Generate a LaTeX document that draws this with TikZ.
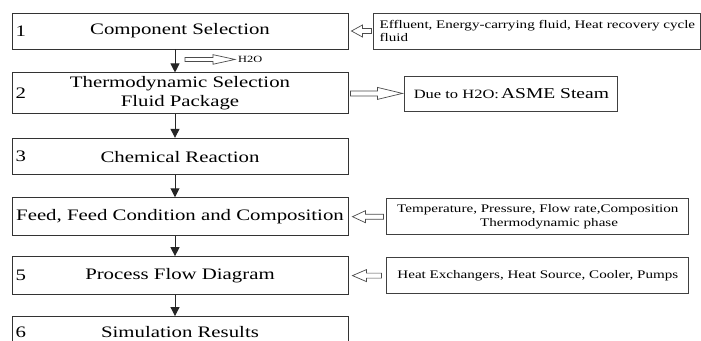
\documentclass[tikz,border=0pt]{standalone}
\usepackage{fontspec}
\setmainfont{Liberation Serif}[FakeStretch=1.3]
\usetikzlibrary{arrows.meta,positioning,calc}

% hollow block arrow: [width factor]{tail}{tip}{head length}
\newcommand\hollowarrow[4][1]{%
  \coordinate (hb) at ($(#3)!#4!(#2)$);
  \draw[hollow] ([yshift=#1*2.5pt]#2) -- ([yshift=#1*2.5pt]hb) -- ([yshift=#1*6pt]hb)
    -- (#3) -- ([yshift=-#1*6pt]hb) -- ([yshift=-#1*2.5pt]hb) -- ([yshift=-#1*2.5pt]#2) -- cycle;}

\begin{document}
\begin{tikzpicture}[x=1pt, y=-1pt,
  node distance=22pt and 25pt,
  stage/.style={draw=black!80, line width=0.9pt, minimum width=336pt, minimum height=#1,
                inner sep=2pt, align=center, font=\fontsize{16}{18.5}\selectfont},
  stage/.default=36pt,
  sidebox/.style={draw=black!75, line width=0.8pt, minimum width=#1, minimum height=36pt,
                  inner sep=2pt, font=\fontsize{11.6}{13.5}\selectfont},
  num/.style={inner sep=0pt, font=\fontsize{16}{18.5}\selectfont},
  flow/.style={-{Triangle[length=9pt,width=9pt]}, line width=1pt, black!85},
  hollow/.style={draw=black!70, line width=0.7pt, fill=white}]

\useasboundingbox (0,0) rectangle (701,340);
\clip (0,0) rectangle (701,340);

% main steps
\node[stage] (s1) at (180,31) {Component Selection};
\node[stage=41pt, below=23pt of s1] (s2) {Thermodynamic Selection\\Fluid Package};
\node[stage=36.5pt, below=23.5pt of s2] (s3) {Chemical Reaction};
\node[stage=38pt, below=22pt of s3] (s4) {Feed, Feed Condition and Composition};
\node[stage=38pt, below=20pt of s4] (s5) {Process Flow Diagram};
\node[stage=31pt, below=21pt of s5] (s6) {Simulation Results};

\node[num, right=4pt of s1.west] (n1) {1};
\node[num, right=4pt of s2.west] (n2) {2};
\node[num, right=4pt of s3.west] (n3) {3};
\node[num, right=4pt of s5.west] (n5) {5};
\node[num, right=4pt of s6.west] (n6) {6};

\foreach \a/\b in {s1/s2, s2/s3, s3/s4, s4/s5, s5/s6}
  \draw[flow] ([xshift=-5pt]\a.south) -- ([xshift=-5pt]\b.north);

% side inputs
\node[sidebox=327pt, right=25pt of s1, align=left] (r1)
  {Effluent, Energy-carrying fluid, Heat recovery cycle\\fluid};
\node[sidebox=213pt, minimum height=35pt, right=56pt of s2, font=\fontsize{12.7}{15}\selectfont] (r2)
  {Due to H2O:\,{\fontsize{15}{17}\selectfont ASME Steam}};
\node[sidebox=302pt, right=38pt of s4, align=left] (r4)
  {Temperature, Pressure, Flow rate,Composition\\\hspace*{83pt}Thermodynamic phase};
\node[sidebox=302pt, right=38pt of s5] (r5)
  {Heat Exchangers, Heat Source, Cooler, Pumps};

\node[inner sep=0pt, anchor=west, font=\fontsize{9.5}{11}\selectfont] (h2o)
  at ([xshift=58pt, yshift=-10pt]s1.south) {H2O};

\coordinate (a1t) at ([xshift=-2pt]r1.west);
\coordinate (a1h) at ([xshift=3pt]s1.east);
\coordinate (a2t) at ([xshift=2pt]s2.east);
\coordinate (a2h) at ([xshift=-2pt]r2.west);
\coordinate (a4t) at ([xshift=-3pt]r4.west);
\coordinate (a4h) at ([xshift=4pt]s4.east);
\coordinate (a5t) at ([xshift=-5pt]r5.west);
\coordinate (a5h) at ([xshift=4pt]s5.east);
\coordinate (hwt) at ([xshift=5pt, yshift=-10pt]s1.south);
\coordinate (hwh) at ([xshift=-3pt]h2o.west);

\hollowarrow{a1t}{a1h}{11pt}
\hollowarrow{a2t}{a2h}{25pt}
\hollowarrow{a4t}{a4h}{13pt}
\hollowarrow{a5t}{a5h}{14pt}
\hollowarrow[0.8]{hwt}{hwh}{22pt}
\end{tikzpicture}
\end{document}
